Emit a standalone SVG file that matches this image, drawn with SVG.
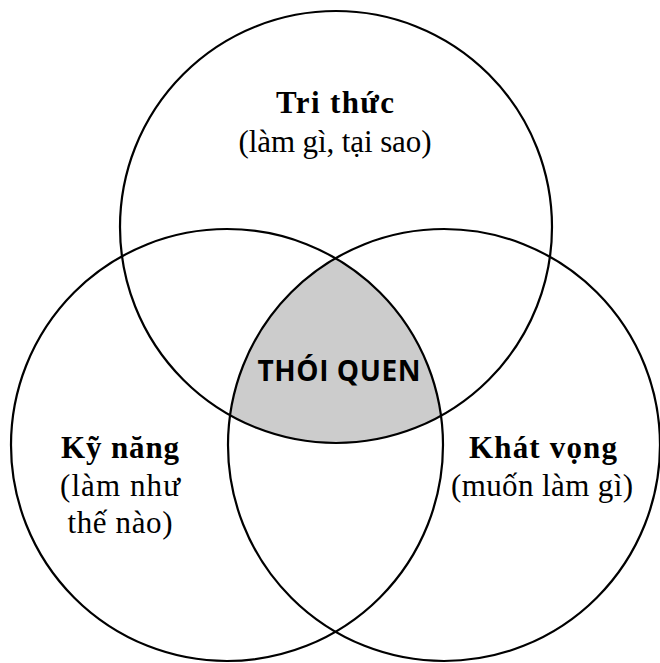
<svg xmlns="http://www.w3.org/2000/svg" width="660" height="663" viewBox="0 0 660 663">
<style>
.c{fill:none;stroke:#000;stroke-width:2.2}
.h{font-family:"Liberation Serif","Times New Roman",serif;font-weight:bold;font-size:31px;fill:#000;text-anchor:middle}
.s{font-family:"Liberation Serif","Times New Roman",serif;font-size:31px;fill:#000;text-anchor:middle}
.m{font-family:"Open Sans","Noto Sans","DejaVu Sans",sans-serif;font-weight:bold;font-size:28px;fill:#000;text-anchor:middle}
</style>
<defs>
<clipPath id="clipL"><circle cx="227" cy="445" r="216"/></clipPath>
<clipPath id="clipR"><circle cx="444" cy="445" r="216"/></clipPath>
</defs>
<rect width="660" height="663" fill="#fff"/>
<g id="overlap" clip-path="url(#clipL)"><g clip-path="url(#clipR)"><circle cx="336" cy="227" r="216" fill="#cccccc"/></g></g>
<g id="tri-thuc">
<circle class="c" cx="336" cy="227" r="216"/>
<text class="h" x="335" y="113" textLength="118">Tri thức</text>
<text class="s" x="335" y="152" textLength="193">(làm gì, tại sao)</text>
</g>
<g id="ky-nang">
<circle class="c" cx="227" cy="445" r="216"/>
<text class="h" x="120" y="458" textLength="118">Kỹ năng</text>
<text class="s" x="120" y="496" textLength="120">(làm như</text>
<text class="s" x="120" y="533" textLength="105">thế nào)</text>
</g>
<g id="khat-vong">
<circle class="c" cx="444" cy="445" r="216"/>
<text class="h" x="543" y="458" textLength="148">Khát vọng</text>
<text class="s" x="542" y="496" textLength="182">(muốn làm gì)</text>
</g>
<g id="thoi-quen">
<text class="m" x="339" y="381" textLength="163">THÓI QUEN</text>
</g>
</svg>
